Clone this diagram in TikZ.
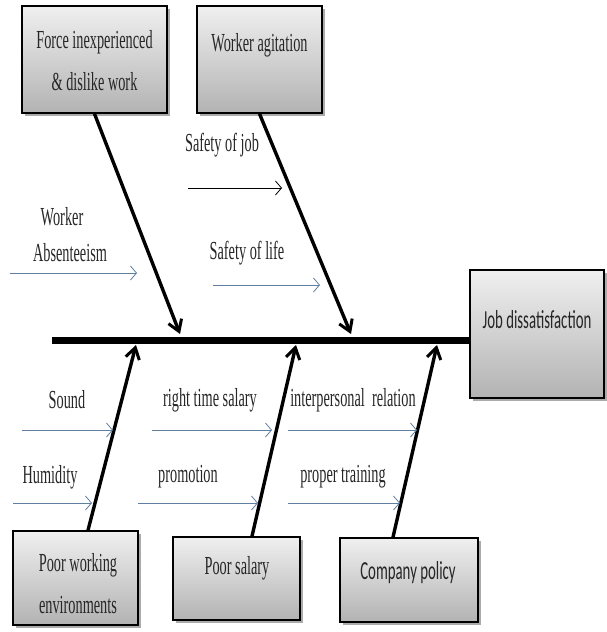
\documentclass[tikz,border=0pt]{standalone}
\usepackage{fontspec}
\newfontfamily\tf[FakeStretch=0.55]{Liberation Serif}
\newfontfamily\cf[FakeStretch=0.57]{Carlito}
\usetikzlibrary{arrows.meta,shadows,calc}
\definecolor{thinblue}{HTML}{5F7FA0}
\tikzset{
  box/.style={draw=black, line width=1.6pt, top color=black!6, bottom color=black!30,
    drop shadow={shadow xshift=3pt, shadow yshift=-3pt, fill=black!55, opacity=0.6},
    inner sep=0pt},
  lbl/.style={font=\tf\fontsize{26}{42}\selectfont, text=black!85, inner sep=0pt, align=center},
  clbl/.style={font=\cf\fontsize{26}{42}\selectfont, text=black!85, inner sep=0pt, align=center},
  bone/.style={line width=3.4pt, -{Straight Barb[length=11pt, width=14pt, line width=3pt]}},
  twig/.style={line width=0.9pt, draw=thinblue, -{Straight Barb[length=6pt, width=14pt, line width=0.8pt]}},
  btwig/.style={line width=0.9pt, draw=black, -{Straight Barb[length=6pt, width=14pt, line width=0.8pt]}},
}
\begin{document}
\begin{tikzpicture}[x=1pt, y=-1pt]
\useasboundingbox (0,0) rectangle (607,632);
% boxes
\node[box, minimum width=145pt, minimum height=107pt] (fi) at (94.5,59.5) {};
\node[box, minimum width=125pt, minimum height=107pt] (wa) at (259.5,59.5) {};
\node[box, minimum width=134pt, minimum height=128pt] (jd) at (537,334) {};
\node[box, minimum width=125pt, minimum height=94pt] (pw) at (75.5,578) {};
\node[box, minimum width=127pt, minimum height=83pt] (ps) at (236.5,578.5) {};
\node[box, minimum width=138pt, minimum height=84pt] (cp) at (409,580) {};
% box texts
\node[lbl] (fit) at (94.5,61) {Force inexperienced\\\& dislike work};
\node[lbl] (wat) at (259.5,45) {Worker agitation};
\node[clbl] (jdt) at (537,320) {Job dissatisfaction};
\node[lbl] (pwt) at (78,584) {Poor working\\environments};
\node[lbl] (pst) at (237,568) {Poor salary};
\node[clbl] (cpt) at (408,573) {Company policy};
% spine
\coordinate (s0) at (52,340);
\draw[line width=7pt] (s0) -- (s0 -| jd.west);
% bone end points
\coordinate (t1) at (180,334);
\coordinate (t2) at (351,334);
\coordinate (t3) at (136,345);
\coordinate (t4) at (296,345);
\coordinate (t5) at (437,345);
\draw[bone] (fi.south) -- (t1);
\draw[bone] (wa.south) -- (t2);
\draw[bone] ([xshift=12.5pt]pw.north) -- (t3);
\draw[bone] ([xshift=15.5pt]ps.north) -- (t4);
\draw[bone] ([xshift=-16pt]cp.north) -- (t5);
% sub causes
\coordinate (a1s) at (188,188); \coordinate (a1e) at (282,188);
\draw[btwig] (a1s) -- (a1e);
\node[lbl] (sj) at (222,145) {Safety of job};
\coordinate (a2s) at (10,273); \coordinate (a2e) at (137,273);
\draw[twig] (a2s) -- (a2e);
\node[lbl] (wk) at (62,217) {Worker};
\node[lbl] (ab) at (70,253) {Absenteeism};
\coordinate (a3s) at (213,285); \coordinate (a3e) at (320,285);
\draw[twig] (a3s) -- (a3e);
\node[lbl] (sl) at (247,253) {Safety of life};
\coordinate (a4s) at (22,430); \coordinate (a4e) at (113,430);
\draw[twig] (a4s) -- (a4e);
\node[lbl] (so) at (67,400) {Sound};
\coordinate (a5s) at (13,503); \coordinate (a5e) at (92,503);
\draw[twig] (a5s) -- (a5e);
\node[lbl] (hu) at (50,477) {Humidity};
\coordinate (a6s) at (152,430); \coordinate (a6e) at (272,430);
\draw[twig] (a6s) -- (a6e);
\node[lbl] (rt) at (210,400) {right time salary};
\coordinate (a7s) at (138,503); \coordinate (a7e) at (258,503);
\draw[twig] (a7s) -- (a7e);
\node[lbl] (pr) at (188,477) {promotion};
\coordinate (a8s) at (288,430); \coordinate (a8e) at (417,430);
\draw[twig] (a8s) -- (a8e);
\node[lbl] (ir) at (353,400) {interpersonal\ \ relation};
\coordinate (a9s) at (288,503); \coordinate (a9e) at (400,503);
\draw[twig] (a9s) -- (a9e);
\node[lbl] (pt) at (343,477) {proper training};
\end{tikzpicture}
\end{document}
